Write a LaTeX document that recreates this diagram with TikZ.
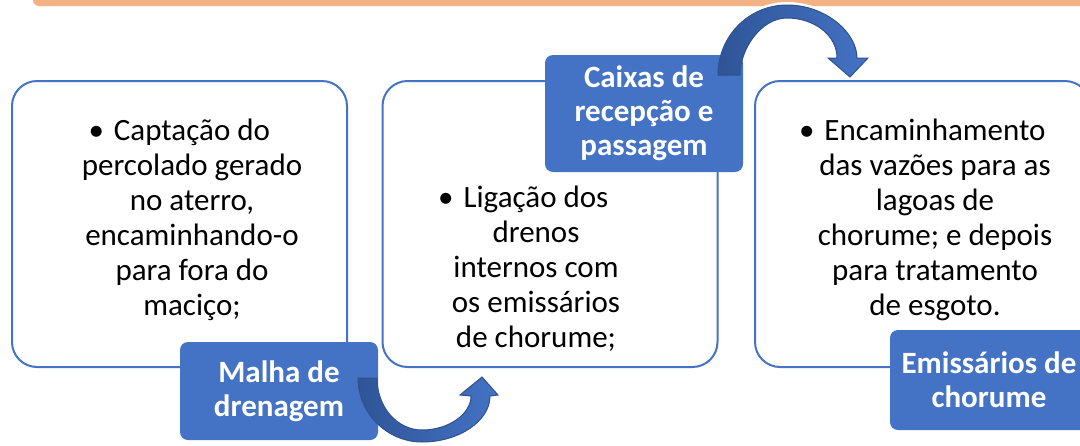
\documentclass[tikz,border=0pt]{standalone}
\usepackage{fontspec}
\setmainfont{Carlito}
\definecolor{blu}{HTML}{4472C4}
\definecolor{barcol}{HTML}{F4B183}
\definecolor{adark}{HTML}{2F5597}
\definecolor{aline}{HTML}{2F528F}
\begin{document}
\begin{tikzpicture}[x=1pt,y=-1pt,
  box/.style={draw=blu, line width=2pt, fill=white, rounded corners=25pt, minimum width=335pt, minimum height=286pt, inner sep=0pt},
  lbl/.style={fill=blu, rounded corners=8pt, text=white, font=\fontsize{31}{34}\selectfont\bfseries, align=center, minimum width=198pt, inner sep=2pt},
  txt/.style={font=\fontsize{31}{35}\selectfont, align=center, text=black, inner sep=0pt},
  arr/.style={left color=adark, right color=blu, draw=aline, line width=1pt}]
\useasboundingbox (0,0) rectangle (1080,445);
\begin{scope}
\clip (0,0) rectangle (1080,445);
% top bar
\fill[barcol, rounded corners=6pt] (33,-20) rectangle (1100,6);
% boxes
\node[box] (b1) at (179.5,224) {};
\node[box] (b2) at (550,224) {};
\node[box] (b3) at (922.5,224) {};
% texts
\node[txt] (t1) at (192,220) {\llap{•\hspace{10pt}}Captação do\\percolado gerado\\no aterro,\\encaminhando-o\\para fora do\\maciço;};
\node[txt] (t2) at (536,269) {\llap{•\hspace{10pt}}Ligação dos\\drenos\\internos com\\os emissários\\de chorume;};
\node[txt] (t3) at (935,220) {\llap{•\hspace{10pt}}Encaminhamento\\das vazões para as\\lagoas de\\chorume; e depois\\para tratamento\\de esgoto.};
% labels
\node[lbl, minimum height=98pt] (l1) at (279,391) {Malha de\\drenagem};
\node[lbl, minimum height=117pt] (l2) at (644,113.5) {Caixas de\\recepção e\\passagem};
\node[lbl, minimum height=100pt] (l3) at (989,380) {Emissários de\\chorume};
% arrow 1 (bottom)
\path[arr] (358,378) .. controls (358,413) and (387,442) .. (422,442)
  .. controls (459,442) and (490,421) .. (490,396) -- (498,395) -- (482,377) -- (460,395) -- (471,396)
  .. controls (471,414) and (449,430) .. (422,430)
  .. controls (397,430) and (377,407) .. (377,378) -- cycle;
% arrow 2 (top) halo
\begin{scope}
\clip (600,-5) rectangle (900,8);
\draw[white, line width=6pt] (718,75) .. controls (718,36) and (749,5) .. (787,5)
  .. controls (826,5) and (857,33) .. (857,58) -- (868,58) -- (850,77) -- (828,58) -- (837,58)
  .. controls (837,35) and (814,18) .. (787,18)
  .. controls (761,18) and (740,49) .. (740,75) -- cycle;
\end{scope}
\path[arr] (718,75) .. controls (718,36) and (749,5) .. (787,5)
  .. controls (826,5) and (857,33) .. (857,58) -- (868,58) -- (850,77) -- (828,58) -- (837,58)
  .. controls (837,35) and (814,18) .. (787,18)
  .. controls (761,18) and (740,49) .. (740,75) -- cycle;
\end{scope}
\end{tikzpicture}
\end{document}
